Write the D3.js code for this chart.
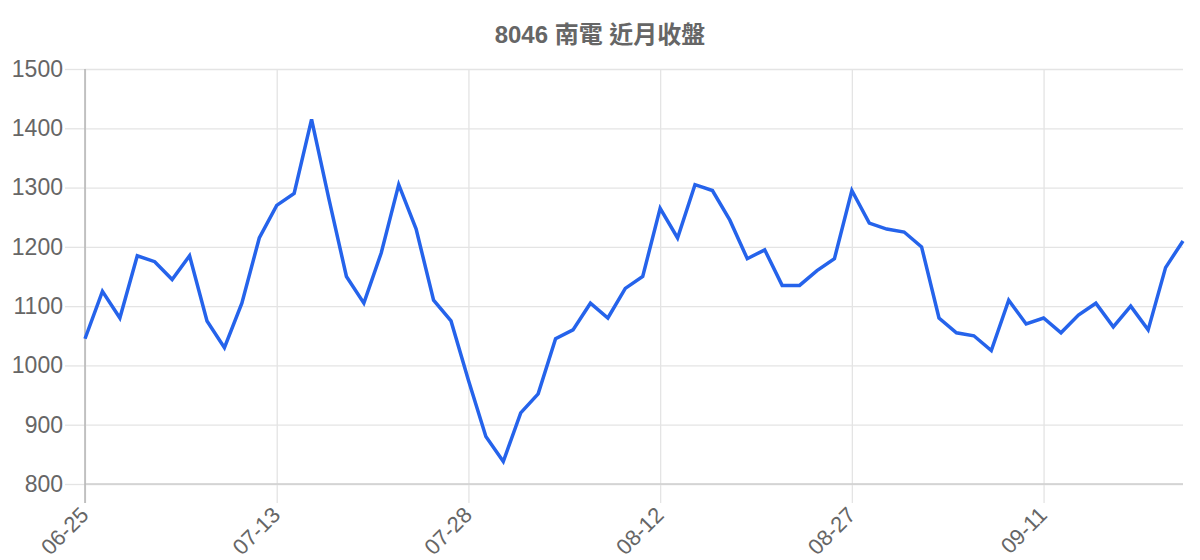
<!DOCTYPE html>
<html>
<head>
<meta charset="utf-8">
<script src="https://cdn.jsdelivr.net/npm/d3@7"></script>
<style>
  body { margin: 0; background: #fff; }
  svg { font-family: 'Liberation Sans', Arial, 'Noto Sans CJK TC', sans-serif; }
</style>
</head>
<body>
<svg></svg>
<script>
const d3 = window.d3

// trading days shown on the x axis (only every 11th gets a label)
let dates = [
  '06-25', '06-29', '06-30', '07-01', '07-02', '07-03', '07-06', '07-07',
  '07-08', '07-09', '07-10', '07-13', '07-14', '07-15', '07-16', '07-17',
  '07-20', '07-21', '07-22', '07-23', '07-24', '07-27', '07-28', '07-29',
  '07-30', '07-31', '08-03', '08-04', '08-05', '08-06', '08-07', '08-10',
  '08-11', '08-12', '08-13', '08-14', '08-17', '08-18', '08-19', '08-20',
  '08-21', '08-24', '08-25', '08-26', '08-27', '08-28', '08-31', '09-01',
  '09-02', '09-03', '09-04', '09-07', '09-08', '09-09', '09-10', '09-11',
  '09-14', '09-15', '09-16', '09-17', '09-18', '09-21', '09-22', '09-23'
]

// closing prices
let closes = [
  1045, 1125, 1080, 1185, 1175, 1145, 1185, 1075, 1030, 1105, 1215, 1270,
  1290, 1415, 1280, 1150, 1105, 1190, 1305, 1230, 1110, 1075, 975, 880,
  838, 920, 952, 1045, 1060, 1105, 1080, 1130, 1150, 1265, 1215, 1305,
  1295, 1245, 1180, 1195, 1135, 1135, 1160, 1180, 1295, 1240, 1230, 1225,
  1200, 1080, 1055, 1050, 1025, 1110, 1070, 1080, 1055, 1085, 1105, 1065,
  1100, 1060, 1165, 1210
]

let yTicks = [800, 900, 1000, 1100, 1200, 1300, 1400, 1500]
let labelEvery = 11

let width = 1200
let height = 560
let plotLeft = 85
let plotRight = 1183
let plotTop = 69
let plotBottom = 484

let svg = d3.select('svg')
    .attr('width', width)
    .attr('height', height)

let xScale = d3.scalePoint()
                .domain(dates)
                .range([plotLeft, plotRight])

let yScale = d3.scaleLinear()
                .domain([800, 1500])
                .range([plotBottom, plotTop])

let shownDates = dates.filter((d, i) => i % labelEvery === 0)

// horizontal grid + y labels
let yAxis = d3.axisLeft(yScale)
              .tickValues(yTicks)
              .tickFormat(d3.format('d'))
              .tickSize(-(plotRight - plotLeft))
              .tickSizeOuter(0)
              .tickPadding(22)

let yG = svg.append('g')
    .attr('transform', `translate(${plotLeft}, 0)`)
    .call(yAxis)

yG.select('.domain').remove()
yG.selectAll('.tick line')
    .attr('stroke', '#e4e4e4')
    .attr('stroke-width', 1.3)
yG.selectAll('.tick')
  .append('line')
    .attr('x1', -20)
    .attr('x2', 0)
    .attr('stroke', '#e4e4e4')
    .attr('stroke-width', 1.3)
yG.selectAll('.tick text')
    .attr('fill', '#666')
    .style('font-size', '23px')

// vertical grid + rotated date labels
let xAxis = d3.axisBottom(xScale)
              .tickValues(shownDates)
              .tickSize(-(plotBottom - plotTop))
              .tickSizeOuter(0)

let xG = svg.append('g')
    .attr('transform', `translate(0, ${plotBottom})`)
    .call(xAxis)

xG.select('.domain').remove()
xG.selectAll('.tick line')
    .attr('stroke', '#e4e4e4')
    .attr('stroke-width', 1.3)
xG.selectAll('.tick')
  .append('line')
    .attr('y1', 0)
    .attr('y2', 19)
    .attr('stroke', '#e4e4e4')
    .attr('stroke-width', 1.3)
xG.selectAll('.tick text')
    .attr('fill', '#666')
    .style('font-size', '22px')
    .style('text-anchor', 'end')
    .attr('y', 0)
    .attr('dy', '0.35em')
    .attr('transform', 'translate(-1, 27) rotate(-45)')

// axis lines
svg.append('line')
    .attr('x1', plotLeft)
    .attr('x2', plotRight)
    .attr('y1', yScale(800))
    .attr('y2', yScale(800))
    .attr('stroke', '#cfcfcf')
    .attr('stroke-width', 1.5)

svg.append('line')
    .attr('x1', plotLeft)
    .attr('x2', plotLeft)
    .attr('y1', plotTop)
    .attr('y2', plotBottom + 19)
    .attr('stroke', '#b4b4b4')
    .attr('stroke-width', 1.5)

let line = d3.line()
              .x((d, i) => xScale(dates[i]))
              .y(d => yScale(d))

svg.append('path')
    .datum(closes)
    .attr('d', line)
    .attr('fill', 'none')
    .attr('stroke', '#2563eb')
    .attr('stroke-width', 3.5)
    .attr('stroke-linejoin', 'miter')

// title
svg.append('text')
    .attr('x', width / 2)
    .attr('y', 43)
    .style('text-anchor', 'middle')
    .style('font-size', '24px')
    .style('font-weight', 'bold')
    .attr('fill', '#666')
    .text('8046 南電 近月收盤')
</script>
</body>
</html>
